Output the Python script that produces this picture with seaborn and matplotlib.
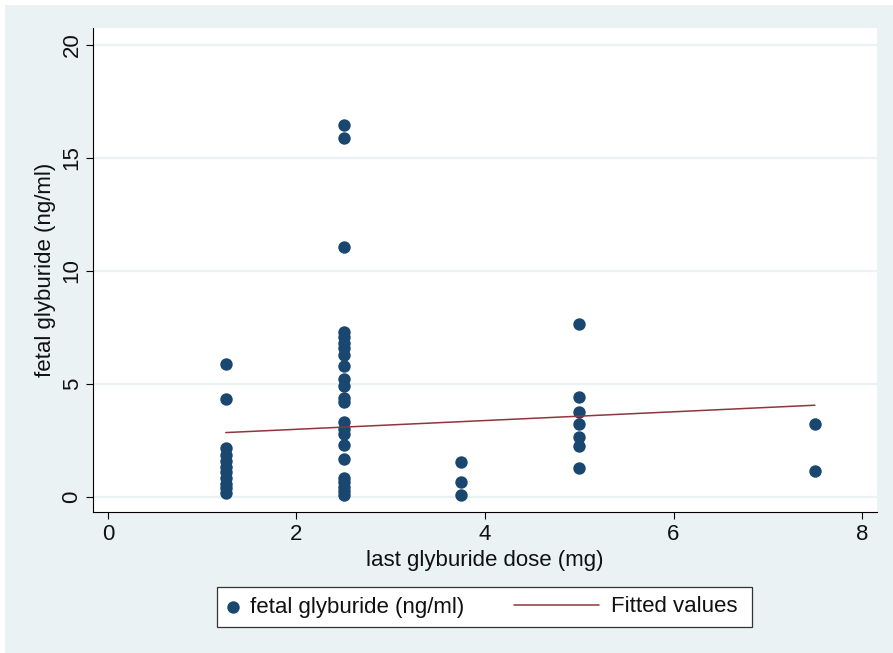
import numpy as np
import pandas as pd
import matplotlib
matplotlib.use("Agg")
import matplotlib.pyplot as plt
import seaborn as sns
from matplotlib.patches import Rectangle
from matplotlib.legend_handler import HandlerLine2D

# ---- data ----
dose_125 = [5.88, 4.34, 2.15, 1.86, 1.59, 1.33, 1.11, 0.84, 0.58, 0.40, 0.16]
dose_250 = [16.46, 15.88, 11.06, 7.3, 7.1, 6.8, 6.6, 6.3, 5.8, 5.2, 4.9, 4.4, 4.2,
            3.3, 3.0, 2.8, 2.3, 1.7, 0.85, 0.65, 0.45, 0.25, 0.1]
dose_375 = [1.54, 0.66, 0.09]
dose_500 = [7.67, 4.44, 3.75, 3.24, 2.64, 2.26, 1.27]
dose_750 = [3.23, 1.15]
dose_levels = [1.25, 2.5, 3.75, 5.0, 7.5]
fit_x = [1.25, 7.5]
fit_y = [2.85, 4.06]
x_ticks = [0, 2, 4, 6, 8]
y_ticks = [0, 5, 10, 15, 20]
x_label = "last glyburide dose (mg)"
y_label = "fetal glyburide (ng/ml)"
series_labels = ["fetal glyburide (ng/ml)", "Fitted values"]

groups = [dose_125, dose_250, dose_375, dose_500, dose_750]
df = pd.DataFrame({
    "dose": np.concatenate([[d] * len(g) for d, g in zip(dose_levels, groups)]),
    "fetal": np.concatenate(groups),
})
fit_df = pd.DataFrame({"dose": fit_x, "fit": fit_y})

# ---- style ----
sns.set_theme(style="white")
plt.rcParams["font.family"] = ["Liberation Sans", "DejaVu Sans"]
FS = 16
BG = "#EAF2F3"
NAVY = "#1A476F"
MAROON = "#90353B"

fig = plt.figure(figsize=(8.93, 6.53), dpi=100)
fig.patch.set_facecolor("white")
fig.patches.append(Rectangle((5 / 893, 0), 1, (653 - 5) / 653, transform=fig.transFigure,
                             facecolor=BG, edgecolor="none", zorder=-10))

ax = fig.add_axes([93 / 893, (653 - 512) / 653, (877 - 93) / 893, (512 - 28) / 653])
ax.set_facecolor("white")

sns.scatterplot(data=df, x="dose", y="fetal", ax=ax, color=NAVY, s=80,
                linewidth=0, label=series_labels[0], zorder=3)
sns.lineplot(data=fit_df, x="dose", y="fit", ax=ax, color=MAROON, linewidth=1.1,
             estimator=None, label=series_labels[1], zorder=4)

ax.set_xlim(-0.159, 8.159)
ax.set_ylim(-0.664, 20.75)
ax.set_xticks(x_ticks)
ax.set_yticks(y_ticks)
ax.set_xticklabels([str(t) for t in x_ticks], fontsize=FS, color="#111111")
ax.set_yticklabels([str(t) for t in y_ticks], fontsize=FS, rotation=90, va="center",
                   color="#111111")
ax.tick_params(axis="both", which="both", direction="out", length=5, width=0.8,
               color="black", bottom=True, left=True)
ax.tick_params(axis="x", pad=4)
ax.tick_params(axis="y", pad=2.5)
ax.grid(axis="y", color=BG, linewidth=1.6, zorder=0)
ax.grid(axis="x", visible=False)
ax.set_axisbelow(True)
for s in ["top", "right"]:
    ax.spines[s].set_visible(False)
for s in ["left", "bottom"]:
    ax.spines[s].set_color("black")
    ax.spines[s].set_linewidth(0.8)
ax.set_xlabel(x_label, fontsize=FS, labelpad=3, color="#111111")
ax.set_ylabel(y_label, fontsize=FS, labelpad=4, color="#111111")

handles, labels = ax.get_legend_handles_labels()
ax.get_legend().remove()


class LongLine(HandlerLine2D):
    def get_xdata(self, legend, xdescent, ydescent, width, height, fontsize):
        xd, xm = super().get_xdata(legend, xdescent, ydescent, width, height, fontsize)
        return np.array([-xdescent - 3.1 * fontsize, -xdescent + 0.75 * fontsize]), xm


line_handle = [h for h, l in zip(handles, labels) if l == series_labels[1]][0]

# legend frame
fig.patches.append(Rectangle((217 / 893, (653 - 627) / 653), 535 / 893, 40 / 653,
                             transform=fig.transFigure, facecolor="white",
                             edgecolor="#333333", linewidth=0.9, zorder=1))
leg = fig.legend(handles, labels, loc="center left",
                 bbox_to_anchor=(221.5 / 893, (653 - 607) / 653),
                 ncol=2, frameon=False, fontsize=FS, handlelength=1.0,
                 handletextpad=0.3, columnspacing=5.3, borderpad=0,
                 borderaxespad=0, scatterpoints=1,
                 handler_map={line_handle: LongLine()})
for t in leg.get_texts():
    t.set_color("#111111")
leg.set_zorder(5)

fig.savefig("out.png", dpi=100, facecolor=fig.get_facecolor())
